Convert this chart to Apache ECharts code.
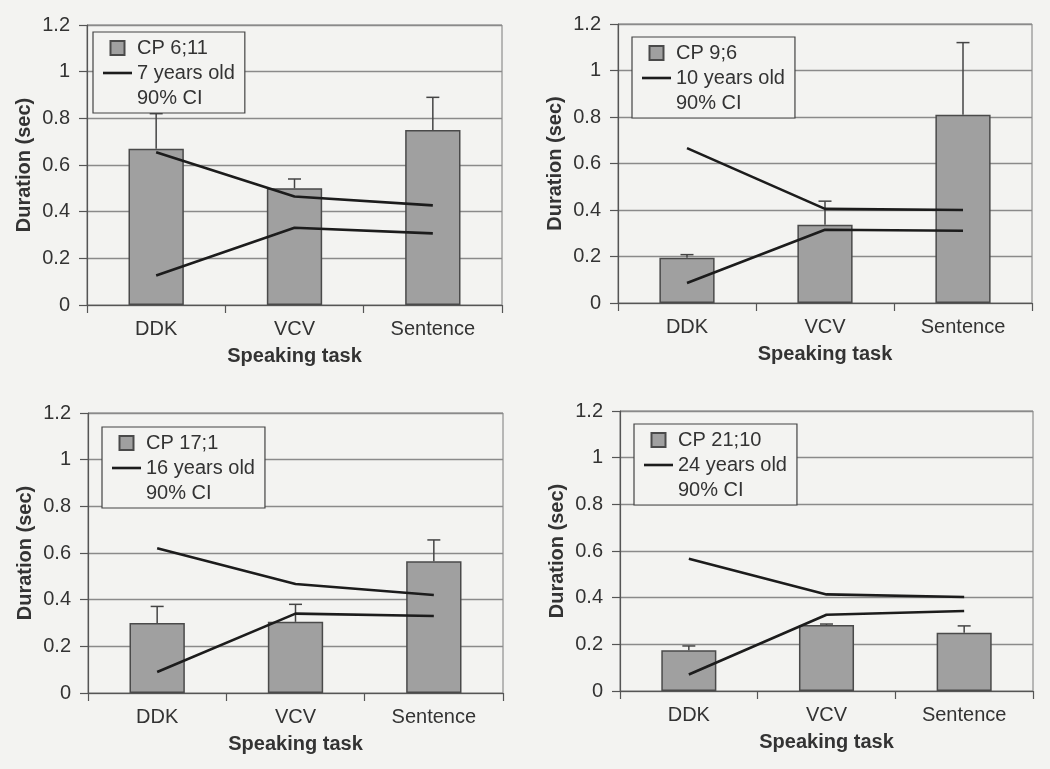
<!DOCTYPE html>
<html>
<head>
<meta charset="utf-8">
<script src="https://cdn.jsdelivr.net/npm/echarts@6/dist/echarts.min.js"></script>
<style>
  html, body { margin: 0; padding: 0; background: #f3f3f1; }
  #chart { width: 1050px; height: 769px; }
</style>
</head>
<body>
<div id="chart"></div>
<script>
// ---- Data ----
const categories = ['DDK', 'VCV', 'Sentence'];
const yTicks = [0, 0.2, 0.4, 0.6, 0.8, 1, 1.2];

const cpLabels = ['CP 6;11', 'CP 9;6', 'CP 17;1', 'CP 21;10'];
const ageLabels = ['7 years old', '10 years old', '16 years old', '24 years old'];
const ciLabel = '90% CI';

// Panel 1: CP 6;11 vs 7 years old
const meanP1 = [0.67, 0.50, 0.75];
const errTopP1 = [0.82, 0.54, 0.89];
const ciHighP1 = [0.655, 0.465, 0.427];
const ciLowP1 = [0.126, 0.331, 0.307];

// Panel 2: CP 9;6 vs 10 years old
const meanP2 = [0.195, 0.337, 0.81];
const errTopP2 = [0.208, 0.438, 1.12];
const ciHighP2 = [0.666, 0.405, 0.40];
const ciLowP2 = [0.086, 0.315, 0.311];

// Panel 3: CP 17;1 vs 16 years old
const meanP3 = [0.30, 0.305, 0.565];
const errTopP3 = [0.371, 0.38, 0.656];
const ciHighP3 = [0.62, 0.467, 0.42];
const ciLowP3 = [0.09, 0.34, 0.33];

// Panel 4: CP 21;10 vs 24 years old
const meanP4 = [0.175, 0.283, 0.25];
const errTopP4 = [0.193, 0.287, 0.279];
const ciHighP4 = [0.567, 0.414, 0.403];
const ciLowP4 = [0.071, 0.327, 0.343];

const means = [meanP1, meanP2, meanP3, meanP4];
const errTops = [errTopP1, errTopP2, errTopP3, errTopP4];
const ciHighs = [ciHighP1, ciHighP2, ciHighP3, ciHighP4];
const ciLows = [ciLowP1, ciLowP2, ciLowP3, ciLowP4];

// ---- Layout / style ----
const FONT = "'Liberation Sans', Arial, sans-serif";
const TXT = '#333333';
const FS = 20;
const grids = [
  { left: 87, right: 548, top: 25, bottom: 464 },
  { left: 618, right: 18, top: 24, bottom: 466 },
  { left: 88, right: 547, top: 413, bottom: 76 },
  { left: 620, right: 17, top: 411, bottom: 78 }
];
const legendPos = [
  { left: 93, top: 32 },
  { left: 632, top: 37 },
  { left: 102, top: 427 },
  { left: 634, top: 424 }
];
const SQUARE_ICON = 'path://M0,0L10,0L10,10L0,10Z';
const LINE_ICON = 'path://M0,0L30,0L30,2.7L0,2.7Z';

const option = {
  backgroundColor: '#f3f3f1',
  animation: false,
  textStyle: { fontFamily: FONT },
  grid: grids.map(g => Object.assign({
    show: true, borderColor: '#7a7a7a', borderWidth: 1, backgroundColor: 'transparent'
  }, g)),
  xAxis: grids.map((g, i) => ({
    type: 'category',
    gridIndex: i,
    data: categories,
    boundaryGap: true,
    name: 'Speaking task',
    nameLocation: 'middle',
    nameGap: 41,
    nameTextStyle: { fontSize: FS, fontWeight: 'bold', color: TXT, fontFamily: FONT },
    axisLine: { show: true, lineStyle: { color: '#555', width: 1.2 } },
    axisTick: { show: true, alignWithLabel: false, length: 8, lineStyle: { color: '#555', width: 1.2 } },
    axisLabel: { fontSize: FS, color: TXT, margin: 14, fontFamily: FONT },
    splitLine: { show: false }
  })),
  yAxis: grids.map((g, i) => ({
    type: 'value',
    gridIndex: i,
    min: yTicks[0],
    max: yTicks[yTicks.length - 1],
    interval: 0.2,
    name: 'Duration (sec)',
    nameLocation: 'middle',
    nameGap: 53,
    nameTextStyle: { fontSize: FS, fontWeight: 'bold', color: TXT, fontFamily: FONT },
    axisLine: { show: true, lineStyle: { color: '#555', width: 1.2 } },
    axisTick: { show: true, length: 8, lineStyle: { color: '#555', width: 1.2 } },
    axisLabel: { fontSize: FS, color: TXT, margin: 17, fontFamily: FONT },
    splitLine: { show: true, lineStyle: { color: '#8a8a8a', width: 1.3 } }
  })),
  legend: legendPos.map((p, i) => ({
    left: p.left,
    top: p.top,
    orient: 'vertical',
    data: [
      { name: cpLabels[i], icon: SQUARE_ICON },
      { name: ageLabels[i], icon: LINE_ICON },
      { name: ciLabel, icon: 'none' }
    ],
    symbolKeepAspect: true,
    itemWidth: 29,
    itemHeight: 14,
    itemGap: 3,
    padding: [5, 10, 4, 10],
    backgroundColor: '#f3f3f1',
    borderColor: '#444',
    borderWidth: 1.2,
    borderRadius: 0,
    selectedMode: false,
    z: 10,
    textStyle: { fontSize: FS, color: TXT, lineHeight: 22, fontFamily: FONT }
  })),
  series: []
};

for (let i = 0; i < 4; i++) {
  option.series.push({
    type: 'bar',
    name: cpLabels[i],
    xAxisIndex: i,
    yAxisIndex: i,
    data: means[i],
    barWidth: '40%',
    itemStyle: { color: '#a0a0a0', borderColor: '#4a4a4a', borderWidth: 1.5 },
    z: 2
  });
  option.series.push({
    type: 'custom',
    name: 'err' + i,
    xAxisIndex: i,
    yAxisIndex: i,
    z: 3,
    data: categories.map((c, k) => [k, means[i][k], errTops[i][k]]),
    renderItem: function (params, api) {
      const base = api.coord([api.value(0), api.value(1)]);
      const top = api.coord([api.value(0), api.value(2)]);
      const half = 6.5;
      const style = { stroke: '#444', lineWidth: 1.5 };
      return {
        type: 'group',
        children: [
          { type: 'line', shape: { x1: base[0], y1: base[1], x2: top[0], y2: top[1] }, style: style },
          { type: 'line', shape: { x1: top[0] - half, y1: top[1], x2: top[0] + half, y2: top[1] }, style: style }
        ]
      };
    }
  });
  option.series.push({
    type: 'line',
    name: ageLabels[i],
    xAxisIndex: i,
    yAxisIndex: i,
    data: ciHighs[i],
    symbol: 'none',
    lineStyle: { color: '#1c1c1c', width: 2.6 },
    itemStyle: { color: '#1c1c1c' },
    z: 4
  });
  option.series.push({
    type: 'line',
    name: ciLabel,
    xAxisIndex: i,
    yAxisIndex: i,
    data: ciLows[i],
    symbol: 'none',
    lineStyle: { color: '#1c1c1c', width: 2.6 },
    itemStyle: { color: '#1c1c1c' },
    z: 4
  });
}

const chart = echarts.init(document.getElementById('chart'), null, { renderer: 'canvas' });
chart.setOption(option);
</script>
</body>
</html>
